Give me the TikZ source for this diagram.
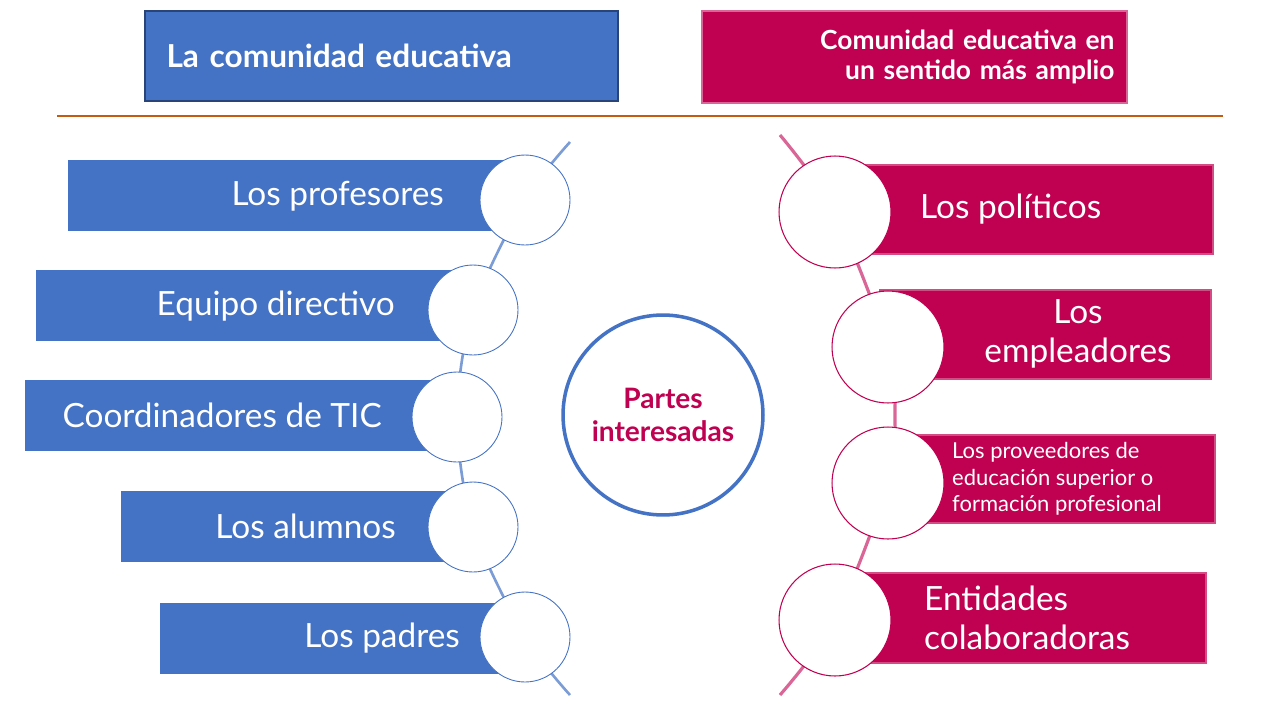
\documentclass[tikz,border=0pt]{standalone}
\usepackage{fontspec}
\setmainfont{Lato}
\usetikzlibrary{positioning}
\definecolor{edublue}{HTML}{4472C4}
\definecolor{edurose}{HTML}{C00050}
\definecolor{edurule}{HTML}{C55A11}
\tikzset{
  px/.style={x=0.02cm,y=-0.02cm},
  bluebar/.style={fill=edublue, draw=none},
  rosebar/.style={fill=edurose, draw=edurose!70!white, line width=0.8pt},
  bluering/.style={circle, draw=edublue, fill=white, line width=0.5pt, minimum size=1.8cm, inner sep=0pt},
  rosering/.style={circle, draw=edurose, fill=white, line width=0.6pt, minimum size=2.24cm, inner sep=0pt},
  barlabel/.style={text=white, font=\fontsize{19}{22}\selectfont},
  smalllabel/.style={text=white, font=\fontsize{12.5}{15}\selectfont, align=left}
}
\begin{document}
\begin{tikzpicture}[px]
\useasboundingbox (0,0) rectangle (1280,720);
% titles
\node[fill=edublue, draw=edublue!60!black, line width=1.2pt, minimum width=9.46cm, minimum height=1.8cm,
  text=white, font=\bfseries\fontsize{18}{20}\selectfont, text width=8.6cm, align=left]
  (lefttitle) at (381.5,56) {La comunidad educativa};
\node[fill=edurose, draw=edurose!60!white, line width=1.2pt, minimum width=8.5cm, minimum height=1.84cm,
  text=white, font=\bfseries\fontsize{15}{17}\selectfont, text width=8cm, align=right]
  (righttitle) at (914.5,57) {Comunidad educativa en\\un sentido más amplio};
\draw[edurule, line width=1.2pt] (57,116) -- (1223,116);
% spines
\draw[edublue!70!white, line width=1.5pt] plot[smooth] coordinates {(570,142) (525,200) (473,310) (457,417) (473,527) (525,637) (570,695)};
\draw[edurose!60!white, line width=1.8pt] plot[smooth] coordinates {(780,135) (835,212) (888,347) (895,415) (888,483) (835,620) (780,695)};
% left bars
\fill[bluebar] (68,160) rectangle (525,231);
\fill[bluebar] (36,270) rectangle (473,341);
\fill[bluebar] (25,380) rectangle (457,451);
\fill[bluebar] (121,491) rectangle (473,562);
\fill[bluebar] (160,603) rectangle (525,674);
\node[bluering] (c1) at (525,200) {};
\node[bluering] (c2) at (473,310) {};
\node[bluering] (c3) at (457,417) {};
\node[bluering] (c4) at (473,527) {};
\node[bluering] (c5) at (525,637) {};
\node[barlabel, anchor=east] (t1) at (450,196) {Los profesores};
\node[barlabel, anchor=east] (t2) at (401,306) {Equipo directivo};
\node[barlabel, anchor=east] (t3) at (388,415) {Coordinadores de TIC};
\node[barlabel, anchor=east] (t4) at (402,526) {Los alumnos};
\node[barlabel, anchor=east] (t5) at (466,638) {Los padres};
% centre
\node[circle, draw=edublue, line width=2pt, fill=white, minimum size=4cm, text=edurose,
  font=\bfseries\fontsize{16}{19}\selectfont, align=center] (hub) at (663,415) {Partes\\interesadas};
% right bars
\fill[rosebar] (862,165) rectangle (1213,254);
\fill[rosebar] (880,290) rectangle (1211,379);
\fill[rosebar] (880,435) rectangle (1215,523);
\fill[rosebar] (862,573) rectangle (1206,663);
\node[rosering] (r1) at (835,212) {};
\node[rosering] (r2) at (888,347) {};
\node[rosering] (r3) at (888,483) {};
\node[rosering] (r4) at (835,620) {};
\node[barlabel, anchor=west] (s1) at (914,209) {Los políticos};
\node[barlabel, align=center] (s2) at (1078,334) {Los\\empleadores};
\node[smalllabel, anchor=west] (s3) at (946,479) {Los proveedores de\\educación superior o\\formación profesional};
\node[barlabel, anchor=west, align=left] (s4) at (918,618) {Entidades\\colaboradoras};
\end{tikzpicture}
\end{document}
